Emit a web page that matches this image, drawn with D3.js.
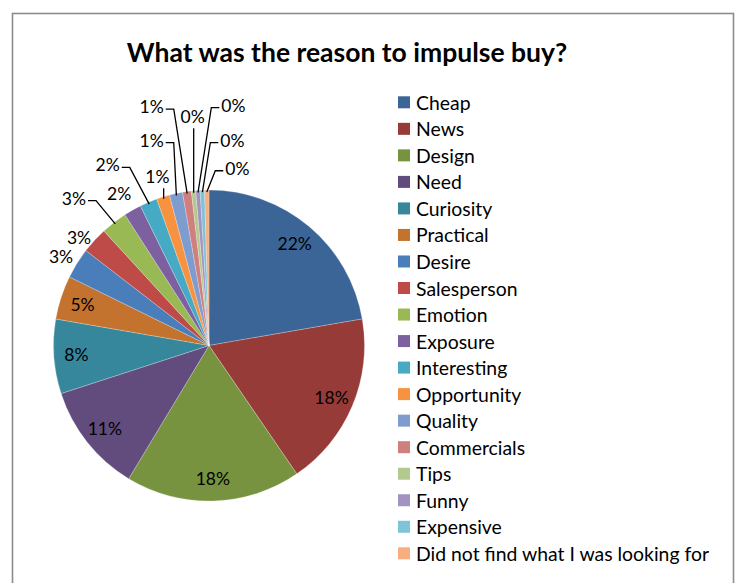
<!DOCTYPE html>
<html>
<head>
<meta charset="utf-8">
<script src="https://cdn.jsdelivr.net/npm/d3@7"></script>
<style>
  body { margin: 0; background: #ffffff; }
  svg { display: block; }
  text { font-family: Lato, "Open Sans", sans-serif; fill: #000; }
</style>
</head>
<body>
<svg id="chart" width="739" height="583"></svg>
<script>
// Survey answers: reasons given for an impulse purchase (number of respondents)
const categories = [
  "Cheap", "News", "Design", "Need", "Curiosity", "Practical",
  "Desire", "Salesperson", "Emotion", "Exposure", "Interesting", "Opportunity",
  "Quality", "Commercials", "Tips", "Funny", "Expensive",
  "Did not find what I was looking for"
];
const responses = [49, 40, 40, 25, 17, 10, 7, 6, 6, 4, 4, 3, 3, 2, 1, 1, 1, 1];

const sliceColors = [
  "#3c6597", "#963b38", "#789340", "#624c7d", "#36879b", "#c4732f",
  "#4a7ebb", "#be4b48", "#98b954", "#7d60a0", "#46aac5", "#f69240",
  "#7f9ccf", "#cf7f7e", "#b3ca8e", "#a393c0", "#7fc3d8", "#f8af7f"
];

const chartTitle = "What was the reason to impulse buy?";

// Placement of the small-slice labels around the pie: [angle from 12 o'clock in degrees, distance from centre, draw leader line]
const calloutLayout = {
  6:  [301.0, 172.6, false],
  7:  [309.6, 168.7, false],
  8:  [317.5, 200.0, true],
  9:  [329.4, 176.6, false],
  10: [330.7, 207.1, true],
  11: [343.0, 176.5, true],
  12: [344.4, 213.3, true],
  13: [346.5, 245.6, true],
  14: [355.9, 229.4, true],
  15: [5.8,   241.7, true],
  16: [6.5,   206.8, true],
  17: [9.1,   179.5, true]
};

const cx = 209, cy = 345.5, R = 155.5;
const svg = d3.select("#chart");

// chart-area frame
svg.append("rect")
  .attr("x", 12.5).attr("y", 13.5)
  .attr("width", 721).attr("height", 620)
  .attr("fill", "#ffffff")
  .attr("stroke", "#8c8c8c").attr("stroke-width", 1.6);

// title
svg.append("text")
  .attr("x", 347).attr("y", 52)
  .attr("text-anchor", "middle").attr("dominant-baseline", "central")
  .style("font-weight", "bold").style("font-size", "26.5px")
  .text(chartTitle);

const total = d3.sum(responses);
const rows = categories.map((c, i) => ({ name: c, value: responses[i], index: i }));

const pie = d3.pie().value(d => d.value).sort(null);
const arcs = pie(rows);
const arc = d3.arc().innerRadius(0).outerRadius(R);
const labelArc = d3.arc().innerRadius(133).outerRadius(133);

const g = svg.append("g").attr("transform", `translate(${cx},${cy})`);

g.selectAll("path.slice")
  .data(arcs)
  .join("path")
  .attr("class", "slice")
  .attr("d", arc)
  .attr("fill", d => sliceColors[d.index])
  .attr("stroke", "#ffffff").attr("stroke-width", 0.4).attr("stroke-opacity", 0.6);

const pctText = d => Math.round(d.value / total * 100) + "%";
const polar = (deg, r) => {
  const a = deg * Math.PI / 180;
  return [Math.sin(a) * r, -Math.cos(a) * r];
};

// labels inside the larger slices
g.selectAll("text.inside")
  .data(arcs.filter(d => !(d.index in calloutLayout)))
  .join("text")
  .attr("class", "inside")
  .attr("transform", d => `translate(${labelArc.centroid(d)})`)
  .attr("text-anchor", "middle").attr("dominant-baseline", "central")
  .style("font-size", "17.5px")
  .text(pctText);

// labels outside the small slices, with leader lines where they sit away from the pie
const outside = arcs.filter(d => d.index in calloutLayout);
outside.forEach(d => {
  const [deg, dist, leader] = calloutLayout[d.index];
  const [tx, ty] = polar(deg, dist);
  const t = g.append("text")
    .attr("x", tx).attr("y", ty)
    .attr("text-anchor", "middle").attr("dominant-baseline", "central")
    .style("font-size", "17.5px")
    .text(pctText(d));
  if (!leader) return;
  const bb = t.node().getBBox();
  const mid = (d.startAngle + d.endAngle) / 2;
  const px = Math.sin(mid) * (R - 2), py = -Math.cos(mid) * (R - 2);
  let pts;
  if (px > bb.x - 1 && px < bb.x + bb.width + 1) {
    pts = [[px, bb.y + bb.height + 1], [px, py]];
  } else if (px >= bb.x + bb.width) {
    const sx = bb.x + bb.width + 2, sy = ty + 2.5;
    pts = [[sx, sy], [sx + 8, sy], [px, py]];
  } else {
    const sx = bb.x - 2, sy = ty + 2.5;
    pts = [[sx, sy], [sx - 8, sy], [px, py]];
  }
  g.append("path")
    .attr("d", d3.line()(pts))
    .attr("fill", "none")
    .attr("stroke", "#000").attr("stroke-width", 1.3);
});

// legend
const legendY = d3.scalePoint()
  .domain(categories)
  .range([102.3, 553.3]);

const legend = svg.append("g");
const item = legend.selectAll("g")
  .data(rows)
  .join("g")
  .attr("transform", d => `translate(398,${legendY(d.name)})`);
item.append("rect")
  .attr("x", 0).attr("y", -6)
  .attr("width", 12).attr("height", 12)
  .attr("fill", d => sliceColors[d.index]);
item.append("text")
  .attr("x", 18).attr("y", 0)
  .attr("dominant-baseline", "central")
  .style("font-size", "19.4px")
  .text(d => d.name);
</script>
</body>
</html>
